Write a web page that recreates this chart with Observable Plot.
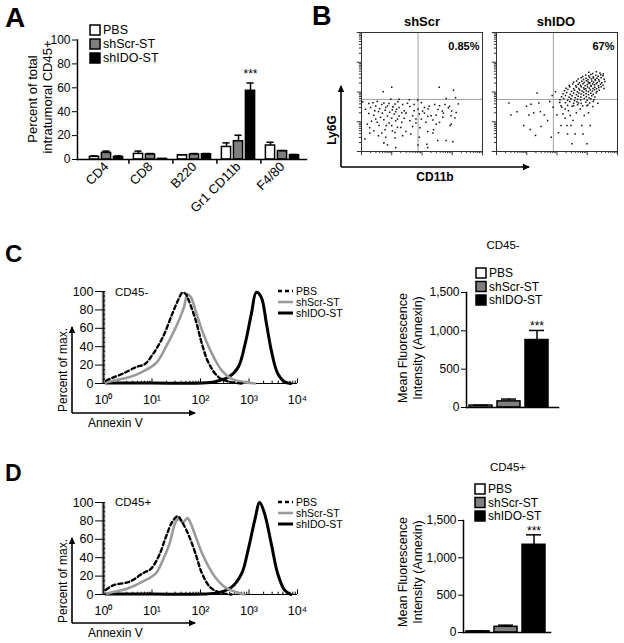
<!DOCTYPE html>
<html><head><meta charset="utf-8">
<script src="https://cdn.jsdelivr.net/npm/d3@7"></script>
<script src="https://cdn.jsdelivr.net/npm/@observablehq/plot@0.6"></script>
<style>
body{margin:0;background:#fff;}
#fig{position:relative;width:624px;height:643px;overflow:hidden;background:#fff;}
</style></head><body><div id="fig"></div>
<script>
// ---------------- DATA ----------------
// Panel A
const catsA = ["CD4","CD8","B220","Gr1 CD11b","F4/80"];
const seriesNames = ["PBS","shScr-ST","shIDO-ST"];
const pbsA    = [2.2, 4.7, 3.6, 10.5, 11.7];
const pbsErrA = [3.0, 7.0, 3.9, 13.9, 14.4];
const scrA    = [5.5, 4.2, 4.2, 15.3, 7.0];
const scrErrA = [7.0, 5.0, 5.0, 20.3, 7.5];
const idoA    = [2.2, 0.5, 4.4, 57.5, 3.6];
const idoErrA = [3.0, 0.7, 5.0, 64.0, 4.2];
const yTicksA = [0,20,40,60,80,100];

// Panel B (log10 fluorescence: [CD11b, Ly6G])
const shScrPts = [[1.00,2.16],[0.72,2.01],[2.57,2.16],[3.04,2.06],[3.11,1.81],[2.80,1.78],[0.97,1.76],[1.24,1.76],[1.58,1.74],[1.86,1.73],
[0.04,1.67],[0.24,1.61],[0.38,1.64],[0.52,1.68],[0.74,1.63],[0.91,1.61],[1.11,1.60],[1.20,1.67],[1.36,1.58],[1.52,1.62],
[1.74,1.58],[1.98,1.64],[2.24,1.52],[2.42,1.58],[2.58,1.54],[2.76,1.58],[2.91,1.52],[3.20,1.60],[0.13,1.42],[0.30,1.48],
[0.44,1.37],[0.60,1.44],[0.80,1.48],[1.02,1.40],[1.24,1.48],[1.41,1.37],[1.60,1.51],[1.87,1.42],[2.02,1.36],[2.20,1.44],
[2.53,1.41],[2.67,1.36],[2.87,1.47],[2.98,1.36],[0.24,1.28],[0.41,1.22],[0.69,1.29],[0.86,1.19],[1.08,1.26],[1.24,1.19],
[1.47,1.29],[1.69,1.20],[1.91,1.26],[2.08,1.29],[2.30,1.20],[2.47,1.22],[2.71,1.29],[2.96,1.20],[3.09,1.13],[0.19,0.92],
[0.33,1.02],[0.52,0.98],[0.74,1.07],[0.91,0.96],[1.13,1.03],[1.33,0.98],[1.60,1.03],[1.80,0.96],[1.98,1.09],[2.13,0.98],
[2.36,1.06],[2.58,0.98],[2.97,0.92],[0.27,0.80],[0.58,0.87],[0.78,0.73],[1.02,0.69],[1.19,0.81],[1.47,0.67],[1.69,0.84],
[1.93,0.80],[2.19,0.67],[2.38,0.73],[2.93,0.87],[0.27,0.62],[0.56,0.53],[0.80,0.48],[1.11,0.64],[1.36,0.53],[1.63,0.59],
[2.36,0.62],[1.91,0.48],[0.11,0.42],[2.80,0.37],[3.02,0.33],[0.74,0.29],[0.86,0.22],[1.13,0.13],[1.87,0.22],[2.16,0.24],
[2.19,0.13],[2.52,0.37],[0.47,1.53],[0.67,1.58],[0.86,1.53],[1.04,1.50],[1.16,1.42],[0.56,1.34],[0.78,1.39],[0.93,1.32],
[1.13,1.34],[1.33,1.30],[0.63,1.15],[1.00,1.12],[1.19,1.09],[1.41,1.12],[0.47,1.09],[0.82,0.87],[1.00,0.87],[1.30,0.81],
[0.41,0.70],[0.67,0.62],[1.11,0.45],[1.74,1.37],[2.08,1.48],[1.80,1.09],[2.19,1.18],[2.69,1.15],[2.47,0.92],[3.13,1.31]];
const shIdoPts = [[0.41,1.63],[0.48,1.23],[0.68,1.34],[0.90,0.87],[0.99,1.52],[1.07,1.23],[1.12,0.74],[1.14,1.59],[1.23,1.30],[1.29,0.54],
[1.34,1.97],[1.40,1.63],[1.45,1.34],[1.47,0.84],[1.58,1.23],[1.69,1.04],[1.76,1.68],[1.81,0.48],[1.84,1.88],[1.87,1.49],
[1.95,2.01],[2.00,1.23],[2.05,0.63],[2.09,1.65],[2.13,0.87],[2.16,1.49],[2.20,1.26],[2.27,1.12],[2.33,0.87],[2.35,0.59],
[2.38,1.37],[2.44,1.21],[2.46,0.87],[2.49,0.26],[2.55,1.54],[2.60,0.59],[2.64,1.30],[2.71,1.63],[2.77,1.43],[2.82,0.87],
[2.86,0.59],[2.90,1.21],[2.99,0.26],[3.04,1.30],[3.10,0.87],[2.99,1.54],[2.27,1.43],[2.53,1.04],[2.13,1.54],
[3.05,2.66],[3.18,2.62],[3.30,2.68],[3.42,2.64],[3.53,2.61],
[2.85,2.52],[2.95,2.57],[3.05,2.54],[3.12,2.59],[3.20,2.51],[3.28,2.56],[3.36,2.53],[3.45,2.58],[3.52,2.55],
[2.70,2.44],[2.80,2.48],[2.88,2.42],[2.96,2.46],[3.02,2.41],[3.08,2.49],[3.14,2.44],[3.20,2.47],[3.26,2.42],[3.32,2.46],[3.38,2.41],[3.46,2.48],[3.56,2.43],
[2.55,2.33],[2.65,2.37],[2.74,2.31],[2.82,2.36],[2.90,2.32],[2.97,2.38],[3.03,2.34],[3.09,2.31],[3.15,2.37],[3.21,2.33],[3.27,2.39],[3.33,2.32],[3.40,2.36],[3.48,2.31],[3.58,2.35],
[2.40,2.22],[2.52,2.27],[2.62,2.21],[2.70,2.26],[2.78,2.23],[2.86,2.28],[2.93,2.21],[3.00,2.25],[3.06,2.29],[3.12,2.22],[3.18,2.27],[3.24,2.24],[3.30,2.28],[3.37,2.21],[3.44,2.26],[3.52,2.23],
[2.30,2.13],[2.42,2.17],[2.55,2.11],[2.64,2.16],[2.72,2.12],[2.80,2.18],[2.88,2.14],[2.95,2.11],[3.01,2.17],[3.07,2.13],[3.13,2.19],[3.19,2.12],[3.25,2.16],[3.31,2.11],[3.38,2.15],[3.46,2.18],[3.55,2.12],
[2.25,2.04],[2.36,2.08],[2.48,2.02],[2.58,2.06],[2.67,2.01],[2.75,2.07],[2.83,2.03],[2.90,2.09],[2.97,2.04],[3.04,2.01],[3.10,2.07],[3.17,2.03],[3.24,2.08],[3.32,2.02],[3.40,2.06],
[2.20,1.94],[2.32,1.98],[2.44,1.92],[2.55,1.96],[2.64,1.91],[2.72,1.97],[2.80,1.93],[2.88,1.99],[2.96,1.94],[3.04,1.91],[3.12,1.96],[3.20,1.92],[3.30,1.97],
[2.15,1.84],[2.28,1.88],[2.40,1.82],[2.50,1.87],[2.60,1.81],[2.70,1.86],[2.79,1.83],[2.88,1.89],[2.97,1.84],[3.06,1.81],[3.15,1.87],[3.25,1.83],
[2.10,1.74],[2.22,1.78],[2.35,1.72],[2.46,1.77],[2.58,1.71],[2.68,1.76],[2.78,1.73],[2.90,1.78],[3.00,1.72],[3.12,1.77],[3.22,1.74],
[2.28,1.64],[2.42,1.68],[2.55,1.62],[2.66,1.67],[2.80,1.61],[2.95,1.66],[3.08,1.63],[3.20,1.68],[3.35,1.62],
[2.35,1.55],[2.50,1.52],[2.68,1.57],[2.85,1.53],[3.02,1.56],[3.18,1.51]];
const gateScr = [1.87, 1.75];
const gateIdo = [1.88, 1.75];
const pctScr = "0.85%";
const pctIdo = "67%";

// Panel C histograms (log10 Annexin V, percent of max)
const pbsC = [[0.05,3],[0.13,5],[0.41,11],[0.68,18],[0.85,21],[1.02,32],[1.22,50],[1.42,76],[1.55,92],[1.63,99],[1.70,97],[1.76,90],[1.90,69],[2.03,43],[2.17,22],[2.37,7],[2.58,2],[2.85,0]];
const scrC = [[0.05,1],[0.20,3],[0.54,7],[0.81,13],[1.08,22],[1.29,40],[1.49,61],[1.66,83],[1.73,97],[1.80,94],[1.90,79],[2.03,58],[2.24,32],[2.44,14],[2.64,5],[2.85,2],[3.12,0]];
const idoC = [[0.05,0.5],[1.00,0.5],[2.03,0.5],[2.30,2],[2.58,7],[2.78,18],[2.92,43],[3.05,76],[3.15,99],[3.25,94],[3.36,65],[3.46,36],[3.59,11],[3.73,2],[3.86,0]];
// Panel D histograms
const pbsD = [[0.05,5],[0.20,10],[0.54,14],[0.81,23],[0.98,28],[1.15,43],[1.29,63],[1.42,79],[1.53,85],[1.63,78],[1.76,64],[1.90,44],[2.03,23],[2.20,8],[2.40,2],[2.64,0]];
const scrD = [[0.07,1],[0.14,2],[0.47,6],[0.81,14],[1.08,23],[1.22,37],[1.36,55],[1.49,79],[1.56,82],[1.63,78],[1.73,83],[1.80,77],[1.90,63],[2.03,45],[2.17,30],[2.30,19],[2.50,8],[2.71,3],[2.90,0]];
const idoD = [[0.05,0.5],[1.00,0.5],[2.03,0.5],[2.37,2],[2.64,8],[2.85,23],[2.98,48],[3.12,81],[3.22,100],[3.32,88],[3.46,55],[3.59,23],[3.73,5],[3.86,0]];
const decadeLabels = ["10⁰","10¹","10²","10³","10⁴"];
const yTicksHist = [0,20,40,60,80,100];

// Panels C/D bar charts (MFI Annexin)
const mfiC    = [25, 80, 880];
const mfiErrC = [30, 110, 1005];
const mfiD    = [15, 76, 1175];
const mfiErrD = [20, 98, 1308];
const yTicksMfi = [0,500,1000,1500];

// ---------------- DRAWING ----------------
const FONT = '"Liberation Sans", Arial, Helvetica, sans-serif';
const fig = document.getElementById("fig");
const fills = {"PBS":"white","shScr-ST":"#7f7f7f","shIDO-ST":"black"};
const baseStyle = {fontFamily: FONT, fontSize: "12px", background: "none", overflow: "visible", color: "black"};
function put(svg, left, top){ svg.style.position="absolute"; svg.style.left=left+"px"; svg.style.top=top+"px"; fig.appendChild(svg); }

// Panel A
const rowsA = [];
const valsA = [pbsA, scrA, idoA], errsA = [pbsErrA, scrErrA, idoErrA];
catsA.forEach((c,i)=>seriesNames.forEach((s,j)=>rowsA.push({cat:c, series:s, j, v:valsA[j][i], e:errsA[j][i]})));
const offA = [-12, 0, 12];
const marksA = [];
seriesNames.forEach((s,j)=>{
  const rows = rowsA.filter(r=>r.series===s);
  marksA.push(Plot.ruleX(rows, {x:"cat", y1:"v", y2:"e", dx:offA[j], strokeWidth:1.5}));
  marksA.push(Plot.barY(rows, {x:"cat", y:"v", dx:offA[j], insetLeft:17.4, insetRight:17.4, fill:fills[s], stroke:"black", strokeWidth:1.5}));
  marksA.push(Plot.tickY(rows, {x:"cat", y:"e", dx:offA[j], insetLeft:18.4, insetRight:18.4, strokeWidth:1.5}));
});
const starA = rowsA.filter(r=>r.cat==="Gr1 CD11b" && r.series==="shIDO-ST");
const plotA = Plot.plot({
  width:320, height:200, marginLeft:77, marginRight:14, marginTop:39.5, marginBottom:41,
  style: baseStyle,
  x:{domain:catsA, range:[82,306], padding:0},
  y:{domain:[0,100]},
  marks:[
    ...marksA,
    Plot.text(starA, {x:"cat", y:"e", dx:12, dy:-9, text:()=>"***", fontSize:12}),
    Plot.ruleX(catsA.slice(0,4), {x:d=>d, dx:22.4, y1:0, y2:-4, strokeWidth:1.5}),
    Plot.frame({anchor:"left", strokeWidth:1.5}),
    Plot.frame({anchor:"bottom", strokeWidth:1.5}),
    Plot.axisY({ticks:yTicksA, tickSize:5, tickPadding:2, fontSize:12, label:null}),
    Plot.axisX({tickSize:0, tickRotate:-45, tickPadding:5, fontSize:13, label:null})
  ]
});
put(plotA, 0, 0);

// Panel B
const decades = [0,1,2,3,4];
const minorLog = [];
for (let d=0; d<4; d++) for (let k=2; k<=9; k++) minorLog.push(d+Math.log10(k));
function scatter(pts, gate, pct){
  return Plot.plot({
    width:150, height:140, marginLeft:21, marginRight:8, marginTop:12, marginBottom:9,
    style: baseStyle,
    x:{domain:[0,4], axis:null}, y:{domain:[0,4], axis:null},
    marks:[
      Plot.ruleX([gate[0]], {stroke:"#a0a0a0", strokeWidth:1}),
      Plot.ruleY([gate[1]], {stroke:"#a0a0a0", strokeWidth:1}),
      Plot.dot(pts, {x:d=>d[0], y:d=>d[1], r:0.85, symbol:"square", fill:"#111", stroke:"none"}),
      Plot.frame({stroke:"#333", strokeWidth:1}),
      Plot.ruleX(minorLog, {x:d=>d, y1:0, y2:-0.07, stroke:"#333"}),
      Plot.ruleX(decades, {x:d=>d, y1:0, y2:-0.14, stroke:"#333"}),
      Plot.ruleY(minorLog, {y:d=>d, x1:0, x2:-0.07, stroke:"#333"}),
      Plot.ruleY(decades, {y:d=>d, x1:0, x2:-0.14, stroke:"#333"}),
      Plot.text([pct], {frameAnchor:"top-right", dx:-3, dy:10, text:d=>d, fontWeight:"bold", fontSize:11})
    ]
  });
}
put(scatter(shScrPts, gateScr, pctScr), 340, 20);
put(scatter(shIdoPts, gateIdo, pctIdo), 475, 20);

// Histograms
function hist(pbs, scr, ido){
  return Plot.plot({
    width:360, height:140, marginLeft:103, marginRight:63, marginTop:21, marginBottom:27,
    style: baseStyle,
    x:{domain:[0,4]}, y:{domain:[0,100]},
    marks:[
      Plot.ruleY([0], {x1:0, x2:4, strokeWidth:1}),
      Plot.ruleX(minorLog, {x:d=>d, y1:0, y2:2.5}),
      Plot.ruleX(decades, {x:d=>d, y1:0, y2:5}),
      Plot.ruleX([0], {y1:0, y2:100, stroke:"#8c8c8c", strokeWidth:3.5}),
      Plot.ruleX([0], {y1:0, y2:100, stroke:"#222", strokeWidth:1.2}),
      Plot.ruleY(d3.range(0,101,5), {y:d=>d, x1:0, x2:0.04}),
      Plot.line(ido, {x:d=>d[0], y:d=>d[1], curve:"catmull-rom", stroke:"black", strokeWidth:3}),
      Plot.line(scr, {x:d=>d[0], y:d=>d[1], curve:"catmull-rom", stroke:"#9a9a9a", strokeWidth:2.6}),
      Plot.line(pbs, {x:d=>d[0], y:d=>d[1], curve:"catmull-rom", stroke:"black", strokeWidth:2.4, strokeDasharray:"4,3"}),
      Plot.axisY({ticks:yTicksHist, tickSize:8, tickPadding:2, fontSize:12.5, label:null}),
      Plot.axisX({ticks:decades, tickFormat:d=>decadeLabels[d], tickSize:0, tickPadding:12, fontSize:12.5, label:null})
    ]
  });
}
put(hist(pbsC, scrC, idoC), 0, 270);
put(hist(pbsD, scrD, idoD), 0, 481);

// MFI bar charts
function mfi(vals, errs, w, h, mL, mR, mT, mB, rng){
  const rows = seriesNames.map((s,i)=>({series:s, v:vals[i], e:errs[i]}));
  return Plot.plot({
    width:w, height:h, marginLeft:mL, marginRight:mR, marginTop:mT, marginBottom:mB,
    style: baseStyle,
    x:{domain:seriesNames, range:rng, paddingInner:0.17, paddingOuter:0.07, axis:null},
    y:{domain:[0,1500]},
    marks:[
      Plot.ruleX(rows, {x:"series", y1:"v", y2:"e", strokeWidth:1.5}),
      Plot.barY(rows, {x:"series", y:"v", fill:d=>fills[d.series], stroke:"black", strokeWidth:1.5}),
      Plot.tickY(rows, {x:"series", y:"e", insetLeft:4, insetRight:4, strokeWidth:1.5}),
      Plot.text(rows.slice(2), {x:"series", y:"e", dy:-4, text:()=>"***", fontSize:12}),
      Plot.frame({anchor:"left", strokeWidth:1.5}),
      Plot.frame({anchor:"bottom", strokeWidth:1.5}),
      Plot.axisY({ticks:yTicksMfi, tickFormat:d3.format(","), tickSize:5, tickPadding:2, fontSize:12, label:null})
    ]
  });
}
put(mfi(mfiC, mfiErrC, 180, 150, 66, 22, 22, 13, [66,152]), 400, 270);
put(mfi(mfiD, mfiErrD, 170, 155, 63, 20, 30, 13, [63,148]), 400, 490);

// ---------------- Annotation overlay (labels, legends, arrows) ----------------
const ov = d3.create("svg").attr("width",624).attr("height",643)
  .style("position","absolute").style("left","0px").style("top","0px")
  .attr("font-family", FONT);
function txt(s, x, y, o={}){
  const t = ov.append("text").attr("x",x).attr("y",y).text(s)
    .attr("font-size", o.size||12).attr("text-anchor", o.anchor||"start")
    .attr("dominant-baseline", o.base||"central").attr("fill","black");
  if (o.bold) t.attr("font-weight","bold");
  if (o.rotate) t.attr("transform", `rotate(-90 ${x} ${y})`);
  return t;
}
function arrow(x1,y1,x2,y2){
  ov.append("line").attr("x1",x1).attr("y1",y1).attr("x2",x2).attr("y2",y2).attr("stroke","black").attr("stroke-width",1.6);
  const a = Math.atan2(y2-y1, x2-x1), L=6, Wd=3.2;
  const bx = x2 - L*Math.cos(a), by = y2 - L*Math.sin(a);
  const px = -Math.sin(a)*Wd, py = Math.cos(a)*Wd;
  ov.append("path").attr("d",`M${x2+Math.cos(a)*1},${y2+Math.sin(a)*1}L${bx+px},${by+py}L${bx-px},${by-py}Z`).attr("fill","black");
}
function squareLegend(x, ys, tx, size){
  seriesNames.forEach((s,i)=>{
    ov.append("rect").attr("x",x).attr("y",ys[i]-5).attr("width",10).attr("height",10)
      .attr("fill",fills[s]).attr("stroke","black").attr("stroke-width",1.5);
    txt(s, tx, ys[i], {size});
  });
}
function lineLegend(x, ys, tx){
  const st = [{c:"black",w:2.4,d:"4,3"},{c:"#9a9a9a",w:2.6,d:null},{c:"black",w:3,d:null}];
  seriesNames.forEach((s,i)=>{
    const l = ov.append("line").attr("x1",x).attr("x2",x+15).attr("y1",ys[i]).attr("y2",ys[i])
      .attr("stroke",st[i].c).attr("stroke-width",st[i].w);
    if (st[i].d) l.attr("stroke-dasharray", st[i].d);
    txt(s, tx, ys[i], {size:10.5});
  });
}
// Panel letters
txt("A", 5, 27, {size:28, bold:true, base:"alphabetic"});
txt("B", 312, 25, {size:27, bold:true, base:"alphabetic"});
txt("C", 5, 262, {size:24, bold:true, base:"alphabetic"});
txt("D", 5, 481, {size:23, bold:true, base:"alphabetic"});
// Panel A
txt("Percent of total", 32, 99, {size:13, anchor:"middle", rotate:true});
txt("intratumoral CD45+", 47, 97, {size:13, anchor:"middle", rotate:true});
squareLegend(90, [30,44,58], 103, 12.5);
// Panel B
txt("shScr", 422, 21, {size:13, bold:true, anchor:"middle"});
txt("shIDO", 556, 21, {size:13, bold:true, anchor:"middle"});
arrow(341,167,341,86);
arrow(341,167,529,167);
txt("Ly6G", 332, 130, {size:12, bold:true, anchor:"middle", rotate:true});
txt("CD11b", 435, 177, {size:12, bold:true, anchor:"middle"});
// Panel C histogram
txt("CD45-", 115, 292, {size:11.5});
lineLegend(278, [291,302,313], 296);
arrow(72,413,72,327);
arrow(72,413,195,413);
txt("Percent of max.", 63, 370, {size:12, anchor:"middle", rotate:true});
txt("Annexin V", 88, 423, {size:12});
// Panel C bars
txt("CD45-", 503, 245, {size:11.5, anchor:"middle"});
squareLegend(476, [273,286.5,300], 489, 12);
txt("Mean Fluorescence", 403, 348, {size:12.5, anchor:"middle", rotate:true});
txt("Intensity (Annexin)", 418, 348, {size:12.5, anchor:"middle", rotate:true});
// Panel D histogram
txt("CD45+", 115, 502, {size:11.5});
lineLegend(278, [502,513,524], 296);
arrow(72,623,72,538);
arrow(72,623,195,623);
txt("Percent of max.", 63, 581, {size:12, anchor:"middle", rotate:true});
txt("Annexin V", 88, 633, {size:12});
// Panel D bars
txt("CD45+", 508, 467, {size:11.5, anchor:"middle"});
squareLegend(475, [489,502.5,516], 488, 12);
txt("Mean Fluorescence", 403, 572, {size:12.5, anchor:"middle", rotate:true});
txt("Intensity (Annexin)", 418, 572, {size:12.5, anchor:"middle", rotate:true});
fig.appendChild(ov.node());
</script></body></html>
